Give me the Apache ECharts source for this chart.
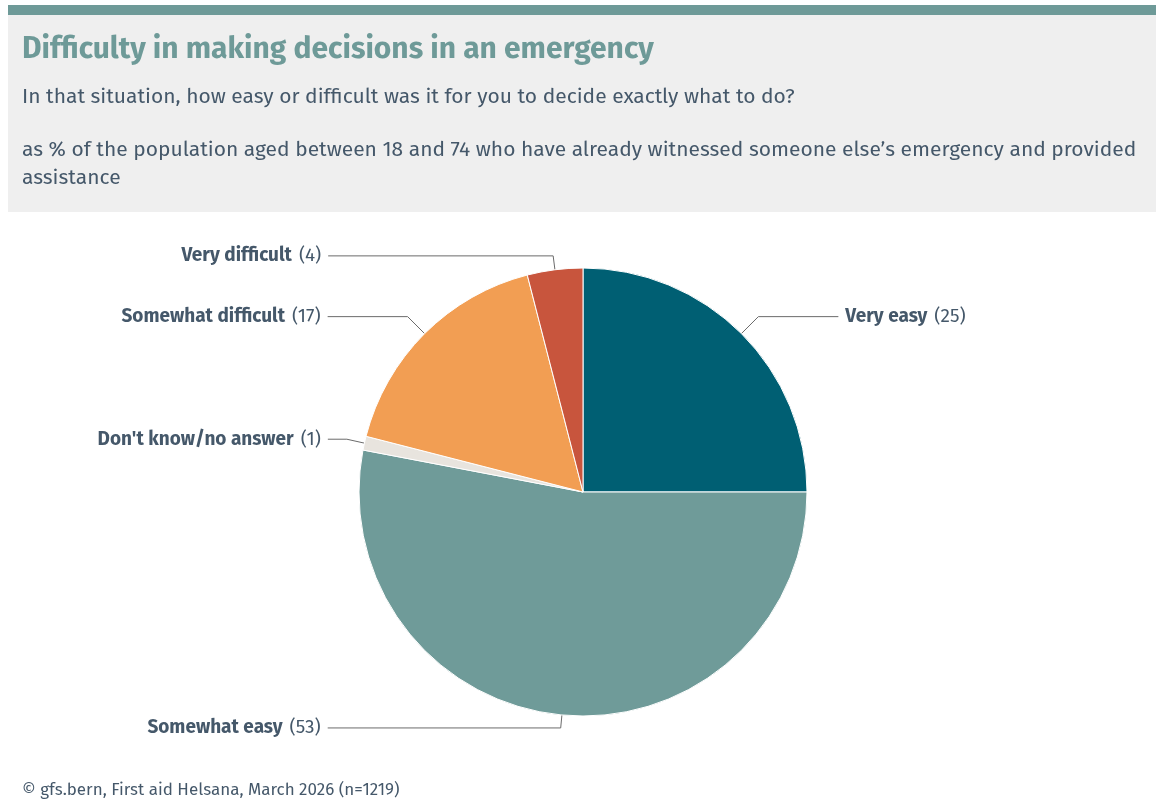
<!DOCTYPE html>
<html>
<head>
<meta charset="utf-8">
<script src="https://cdn.jsdelivr.net/npm/echarts@6/dist/echarts.min.js"></script>
<style>
  html, body { margin: 0; padding: 0; background: #ffffff; }
  #chart { width: 1156px; height: 805px; }
</style>
</head>
<body>
<div id="chart"></div>
<script>
// Answer categories, clockwise from twelve o'clock
const categories = ['Very easy', 'Somewhat easy', "Don't know/no answer", 'Somewhat difficult', 'Very difficult'];
// Share of respondents, in %
const values = [25, 53, 1, 17, 4];
const sliceColors = ['#005f73', '#6f9b99', '#e8e4de', '#f29e53', '#c8553d'];

const titleText = 'Difficulty in making decisions in an emergency';
const questionText = 'In that situation, how easy or difficult was it for you to decide exactly what to do?';
const baseText = 'as % of the population aged between 18 and 74 who have already witnessed someone else\u2019s emergency and provided\nassistance';
const sourceText = '\u00a9 gfs.bern, First aid Helsana, March 2026 (n=1219)';

const FONT = '"Fira Sans", "Noto Sans", sans-serif';
const TEXT_DARK = '#45586a';
const TEAL = '#6e9a98';

// connector lengths per slice (first radial leg, horizontal leg)
const legLen = [24, 13, 18, 24, 14];
const leg2Len = [80, 233, 19, 80, 225];

const chart = echarts.init(document.getElementById('chart'), null, { renderer: 'canvas' });

chart.setOption({
  backgroundColor: '#ffffff',
  animation: false,
  graphic: [
    { type: 'rect', shape: { x: 8, y: 5, width: 1148, height: 10 }, style: { fill: TEAL }, z: 1 },
    { type: 'rect', shape: { x: 8, y: 15, width: 1148, height: 197 }, style: { fill: '#efefef' }, z: 1 },
    { type: 'text', x: 22, y: 50, style: { text: titleText, font: 'bold 30px ' + FONT, fill: TEAL, textVerticalAlign: 'middle' }, z: 2 },
    { type: 'text', x: 22, y: 97, style: { text: questionText, font: '21px ' + FONT, fill: TEXT_DARK, textVerticalAlign: 'middle' }, z: 2 },
    { type: 'text', x: 22, y: 136, style: { text: baseText, font: '21px ' + FONT, fill: TEXT_DARK, lineHeight: 28 }, z: 2 },
    { type: 'text', x: 22, y: 790, style: { text: sourceText, font: '17px ' + FONT, fill: TEXT_DARK, textVerticalAlign: 'middle' }, z: 2 }
  ],
  series: [{
    type: 'pie',
    center: [583, 492],
    radius: [0, 224],
    startAngle: 90,
    clockwise: true,
    avoidLabelOverlap: false,
    itemStyle: { borderColor: '#ffffff', borderWidth: 1 },
    label: {
      show: true,
      distanceToLabelLine: 7,
      formatter: p => '{b|' + p.name + '}{v|(' + p.value + ')}',
      rich: {
        b: { fontFamily: FONT, fontWeight: 'bold', fontSize: 19, color: TEXT_DARK },
        v: { fontFamily: FONT, fontSize: 19, color: TEXT_DARK, padding: [0, 0, 0, 7] }
      }
    },
    labelLine: { show: true, lineStyle: { color: '#6b6b6b', width: 1 } },
    emphasis: { disabled: true },
    data: categories.map((name, i) => ({
      name,
      value: values[i],
      itemStyle: { color: sliceColors[i] },
      labelLine: { length: legLen[i], length2: leg2Len[i] }
    }))
  }]
});
</script>
</body>
</html>
